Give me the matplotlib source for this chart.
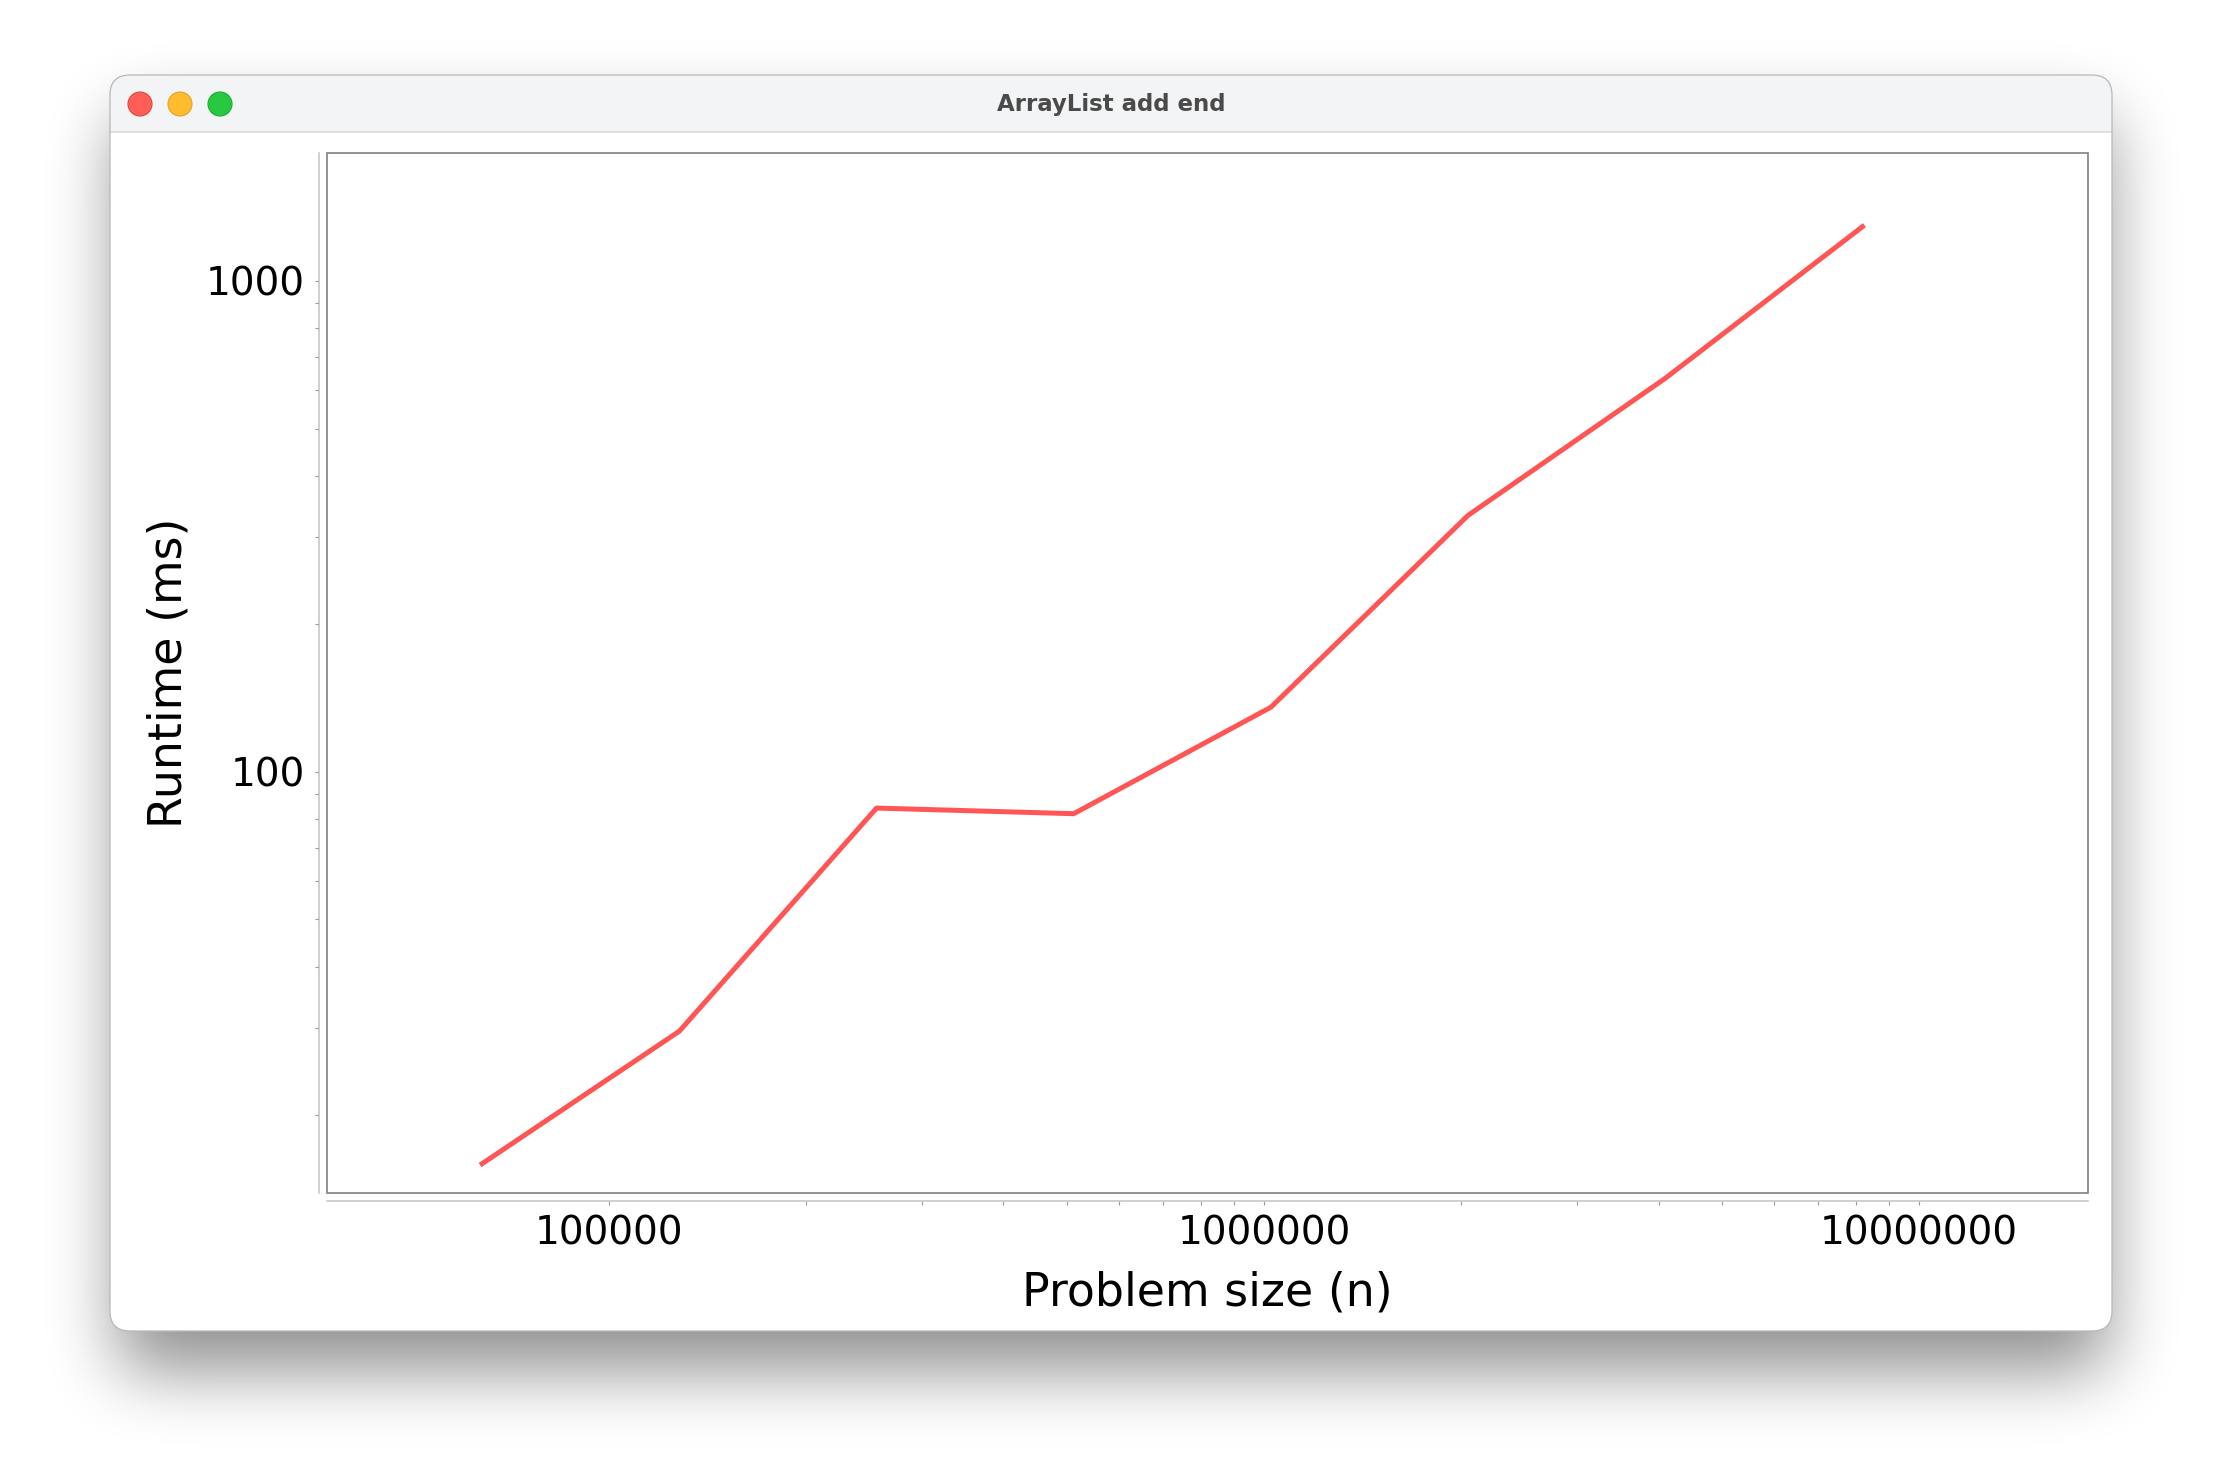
import numpy as np
import matplotlib
matplotlib.use("Agg")
import matplotlib.pyplot as plt
from matplotlib.patches import FancyBboxPatch, Rectangle, Circle
from matplotlib.ticker import FixedLocator, FuncFormatter, NullFormatter

# Datos (tamano del problema vs tiempo en ms)
problem_sizes = [64000, 128000, 256000, 512000, 1024000, 2048000, 4096000, 8192000]
runtimes_ms = [15.9, 29.6, 84.3, 82.1, 135.3, 332.8, 633, 1289]

x_major = [100000, 1000000, 10000000]
y_major = [100, 1000]
x_range = (37060, 18.1e6)
y_range = (13.89, 1821)

title = "ArrayList add end"
xlabel = "Problem size (n)"
ylabel = "Runtime (ms)"

W, H = 2224, 1480
fig = plt.figure(figsize=(W / 100, H / 100), dpi=100)
fig.patch.set_facecolor("white")

# Fondo: ventana estilo macOS dibujada en coordenadas de pixel
bg = fig.add_axes([0, 0, 1, 1])
bg.set_xlim(0, W)
bg.set_ylim(H, 0)
bg.axis("off")

wx0, wy0, wx1, wy1 = 110, 75, 2112, 1331
bar_h = 57
rad = 20


def rounded_mask(x0, y0, x1, y1, r):
    yy, xx = np.mgrid[0:H, 0:W] + 0.5
    dx = np.maximum(np.maximum(x0 + r - xx, xx - (x1 - r)), 0)
    dy = np.maximum(np.maximum(y0 + r - yy, yy - (y1 - r)), 0)
    return (dx ** 2 + dy ** 2 <= r ** 2).astype(float)


def blur_rows(a, w):
    pad = w // 2
    a = np.pad(a, ((0, 0), (pad, w - 1 - pad)))
    c = np.cumsum(a, axis=1)
    c = np.concatenate([np.zeros((a.shape[0], 1)), c], axis=1)
    return (c[:, w:] - c[:, :-w]) / w


# sombra difusa debajo de la ventana
shadow = rounded_mask(wx0 + 6, wy0 + 40, wx1 - 6, wy1 + 38, rad)
for _ in range(3):
    shadow = blur_rows(shadow, 66)
    shadow = blur_rows(shadow.T, 66).T
rgba = np.zeros((H, W, 4))
rgba[..., 3] = 0.44 * shadow
bg.imshow(rgba, extent=(0, W, H, 0), interpolation="bilinear", zorder=0)

bg.add_patch(FancyBboxPatch((wx0, wy0), wx1 - wx0, wy1 - wy0,
                            boxstyle="round,pad=0,rounding_size=%d" % rad,
                            facecolor="white", edgecolor="none", zorder=1))
bg.add_patch(FancyBboxPatch((wx0, wy0), wx1 - wx0, bar_h + rad,
                            boxstyle="round,pad=0,rounding_size=%d" % rad,
                            facecolor="#f3f4f6", edgecolor="none", zorder=2))
bg.add_patch(Rectangle((wx0, wy0 + bar_h), wx1 - wx0, rad + 4,
                       facecolor="white", edgecolor="none", zorder=3))
bg.plot([wx0, wx1], [wy0 + bar_h, wy0 + bar_h], color="#dadada", lw=1.2, zorder=4)
bg.add_patch(FancyBboxPatch((wx0, wy0), wx1 - wx0, wy1 - wy0,
                            boxstyle="round,pad=0,rounding_size=%d" % rad,
                            facecolor="none", edgecolor="#b8b8b8", lw=0.9, zorder=5))

for cx, fc, ec in [(140, "#ff5f57", "#e2463f"), (180, "#febc2e", "#e1a325"),
                   (220, "#28c840", "#1fae33")]:
    bg.add_patch(Circle((cx, 104), 12, facecolor=fc, edgecolor=ec, lw=0.8, zorder=6))

bg.text((wx0 + wx1) / 2, 104, title, ha="center", va="center", fontsize=16.5,
        fontweight="bold", color="#4a4a4a", zorder=6)

# Grafico principal
left, right, top, bottom = 326.7, 2088, 153, 1192.5
ax = fig.add_axes([left / W, 1 - bottom / H, (right - left) / W, (bottom - top) / H])
ax.set_zorder(10)
ax.set_facecolor("white")

ax.plot(problem_sizes, runtimes_ms, color="#ff5555", lw=3.6)

ax.set_xscale("log")
ax.set_yscale("log")
ax.set_xlim(*x_range)
ax.set_ylim(*y_range)

x_minor = [m * d for d in [100000, 1000000] for m in range(2, 10)]
y_minor = [m * d for d in [10, 100] for m in range(2, 10)]
ax.xaxis.set_major_locator(FixedLocator(x_major))
ax.xaxis.set_minor_locator(FixedLocator(x_minor))
ax.yaxis.set_major_locator(FixedLocator(y_major))
ax.yaxis.set_minor_locator(FixedLocator(y_minor))
fmt = FuncFormatter(lambda v, _: "%d" % round(v))
ax.xaxis.set_major_formatter(fmt)
ax.yaxis.set_major_formatter(fmt)
ax.xaxis.set_minor_formatter(NullFormatter())
ax.yaxis.set_minor_formatter(NullFormatter())

for side in ["top", "right"]:
    ax.spines[side].set_visible(False)
for side in ["left", "bottom"]:
    ax.spines[side].set_position(("outward", 5.8))
    ax.spines[side].set_color("#c4c4c4")
    ax.spines[side].set_linewidth(1.1)

ax.add_patch(Rectangle((0, 0), 1, 1, transform=ax.transAxes, fill=False,
                       edgecolor="#808080", lw=1.2, clip_on=False, zorder=20))

ax.tick_params(which="both", direction="out", length=3, width=0.8,
               color="#999999", labelsize=28, labelcolor="black")
ax.tick_params(axis="x", pad=7)
ax.tick_params(axis="y", pad=7)

ax.set_xlabel(xlabel, fontsize=33, labelpad=13)
ax.set_ylabel(ylabel, fontsize=33, labelpad=10)

fig.savefig("out.png", dpi=100, facecolor="white")
